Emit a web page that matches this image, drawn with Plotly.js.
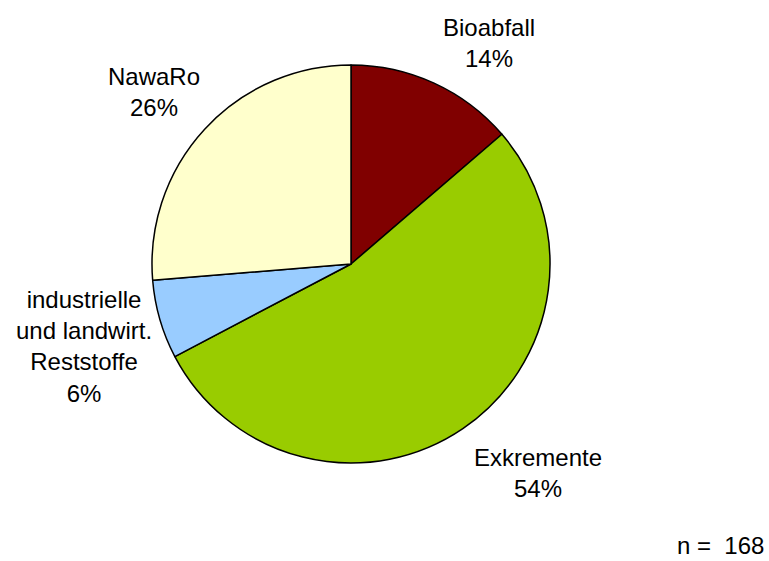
<!DOCTYPE html>
<html>
<head>
<meta charset="utf-8">
<script src="https://cdn.plot.ly/plotly-3.0.1.min.js"></script>
<style>html,body{margin:0;padding:0;background:#fff;}#chart{width:769px;height:561px;}</style>
</head>
<body>
<div id="chart"></div>
<script>
// Data
const categories = ["Bioabfall", "Exkremente", "industrielle<br>und landwirt.<br>Reststoffe", "NawaRo"];
const shares = [13.7, 53.6, 6.4, 26.3];
const colors = ["#800000", "#99CC00", "#99CCFF", "#FFFFCC"];
const sampleSize = 168;

const W = 769, H = 561;
const dom = {x: [152 / W, 550 / W], y: [1 - 463 / H, 1 - 65 / H]};
const cx = (dom.x[0] + dom.x[1]) / 2 * W;
const cy = (1 - (dom.y[0] + dom.y[1]) / 2) * H;
const R = Math.min((dom.x[1] - dom.x[0]) * W, (dom.y[1] - dom.y[0]) * H) / 2;
const labelFont = {family: 'Liberation Sans, Arial, sans-serif', size: 24, color: '#000'};

const total = shares.reduce((a, b) => a + b, 0);
const annotations = [];
let cum = 0;
shares.forEach((v, i) => {
  const mid = (cum + v / 2) / total * 2 * Math.PI;
  cum += v;
  const s = Math.sin(mid), c = Math.cos(mid);
  const r = R * 1.08;
  const px = cx + r * s, py = cy - r * c;
  const pct = Math.round(v / total * 100);
  const xa = s > 0.2 ? 'left' : (s < -0.2 ? 'right' : 'center');
  const ya = c > 0.4 ? 'bottom' : (c < -0.4 ? 'top' : 'middle');
  annotations.push({
    xref: 'paper', yref: 'paper',
    x: px / W, y: 1 - py / H,
    xanchor: xa, yanchor: ya,
    xshift: s < 0 ? 9 : 0,
    yshift: ya === 'middle' ? c * 80 : (ya === 'bottom' ? -5 : 0),
    text: categories[i] + '<br>' + pct + '%',
    showarrow: false,
    align: 'center',
    font: labelFont
  });
});
annotations.push({
  xref: 'paper', yref: 'paper', x: 765 / W, y: 1 - 545 / H,
  xanchor: 'right', yanchor: 'middle', showarrow: false, borderpad: 0,
  text: 'n =\u00a0 ' + sampleSize,
  font: labelFont
});

const trace = {
  type: 'pie',
  labels: categories,
  values: shares,
  sort: false,
  direction: 'clockwise',
  rotation: 0,
  textinfo: 'none',
  hoverinfo: 'label+percent',
  marker: {colors: colors, line: {color: '#000', width: 1.5}},
  domain: dom,
  showlegend: false
};

Plotly.newPlot('chart', [trace], {
  width: W, height: H,
  margin: {l: 0, r: 0, t: 0, b: 0},
  paper_bgcolor: '#fff',
  showlegend: false,
  annotations: annotations,
  font: {family: 'Liberation Sans, Arial, sans-serif'}
}, {displayModeBar: false, staticPlot: true});
</script>
</body>
</html>
